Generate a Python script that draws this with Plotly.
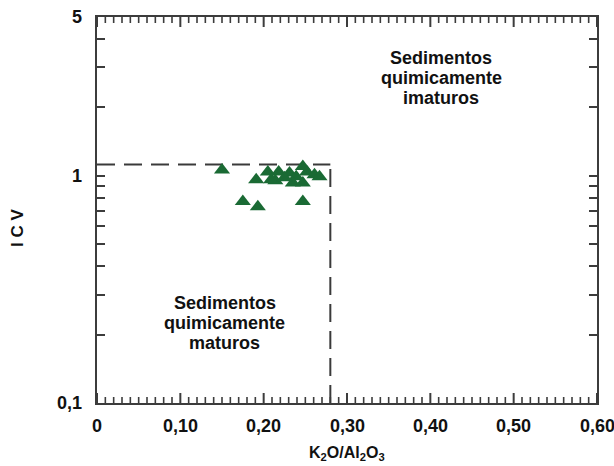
import math
import plotly.graph_objects as go

# Sample data: K2O/Al2O3 ratio and Index of Compositional Variability
k2o_al2o3 = [0.150, 0.191, 0.205, 0.218, 0.214, 0.231, 0.247, 0.239, 0.252,
             0.261, 0.267, 0.235, 0.247, 0.175, 0.193, 0.247, 0.209, 0.225]
icv = [1.06, 0.96, 1.04, 1.04, 0.95, 1.03, 1.10, 0.99, 1.04,
       1.01, 0.99, 0.93, 0.93, 0.77, 0.73, 0.77, 0.96, 0.98]

# Boundary between chemically mature and immature sediments
k2o_limit = 0.28
icv_limit = 1.12

x_ticks = [0, 0.1, 0.2, 0.3, 0.4, 0.5, 0.6]
x_ticktext = ["0", "0,10", "0,20", "0,30", "0,40", "0,50", "0,60"]
x_minor_step = 0.01
y_ticks = [0.1, 1, 5]
y_ticktext = ["0,1", "1", "5"]
y_minor = [0.2, 0.3, 0.4, 0.5, 0.6, 0.7, 0.8, 0.9, 2, 3, 4]

# Region labels, one entry per text line
immature_lines = ["Sedimentos", "quimicamente", "imaturos"]
mature_lines = ["Sedimentos", "quimicamente", "maturos"]

axis_color = "#3c3c3c"
text_color = "#111111"
font_family = "Liberation Sans"

W, H = 614, 466
M = dict(l=97, r=17, t=17, b=63)
plot_h = H - M["t"] - M["b"]
y_lo, y_hi = -1.0, math.log10(5)
log_per_px = (y_hi - y_lo) / plot_h

fig = go.Figure()

# Inside tick marks along the bottom and top frame, drawn as line segments
n_steps = int(round((x_ticks[-1] - x_ticks[0]) / x_minor_step))
tick_sets = {True: ([], []), False: ([], [])}
for i in range(n_steps + 1):
    xv = round(x_ticks[0] + i * x_minor_step, 4)
    major = i % 10 == 0
    length = 10 if major else 6
    xs, ys = tick_sets[major]
    xs += [xv, xv, None, xv, xv, None]
    ys += [10 ** y_lo, 10 ** (y_lo + length * log_per_px), None,
           10 ** y_hi, 10 ** (y_hi - length * log_per_px), None]
for major, (xs, ys) in tick_sets.items():
    fig.add_trace(go.Scatter(
        x=xs, y=ys, mode="lines", cliponaxis=False,
        line=dict(color=axis_color, width=2 if major else 1.6),
        hoverinfo="skip", showlegend=False))

# Dashed boundary lines
dash_style = dict(color="#3a3a3a", width=2, dash="18px,9px")
fig.add_trace(go.Scatter(
    x=[0, k2o_limit], y=[icv_limit, icv_limit], mode="lines",
    line=dash_style, hoverinfo="skip", showlegend=False))
fig.add_trace(go.Scatter(
    x=[k2o_limit, k2o_limit], y=[0.1, icv_limit], mode="lines",
    line=dash_style, hoverinfo="skip", showlegend=False))

# Samples
fig.add_trace(go.Scatter(
    x=k2o_al2o3, y=icv, mode="markers",
    marker=dict(symbol="triangle-up", size=14, color="#1a6a34",
                line=dict(width=0)),
    showlegend=False))

# Bold tick labels
for xv, t in zip(x_ticks, x_ticktext):
    fig.add_annotation(x=xv, xref="x", y=0, yref="paper", yanchor="top",
                       yshift=-11, text="<b>" + t + "</b>", showarrow=False,
                       font=dict(size=18, family=font_family, color=text_color))
for yv, t in zip(y_ticks, y_ticktext):
    fig.add_annotation(x=0, xref="paper", y=math.log10(yv), yref="y",
                       xanchor="right", xshift=-13, yanchor="middle",
                       text="<b>" + t + "</b>", showarrow=False,
                       font=dict(size=18, family=font_family, color=text_color))

# Axis titles
fig.add_annotation(x=0.5, xref="paper", y=0, yref="paper", yanchor="middle",
                   yshift=-50,
                   text="<b>K<sub>2</sub>O/Al<sub>2</sub>O<sub>3</sub></b>",
                   showarrow=False,
                   font=dict(size=16, family=font_family, color=text_color))
fig.add_annotation(x=0, xref="paper", xanchor="center", xshift=-80,
                   y=1 - (228 - M["t"]) / plot_h, yref="paper", textangle=-90,
                   text="<b>I C V</b>", showarrow=False,
                   font=dict(size=17, family=font_family, color=text_color))


def add_block(lines, x, y_top_px):
    # stack the lines of a label 20 px apart
    for i, line in enumerate(lines):
        fig.add_annotation(
            x=x, xref="x", y=1 - (y_top_px + 20 * i - M["t"]) / plot_h,
            yref="paper", text="<b>" + line + "</b>", showarrow=False,
            font=dict(size=18, color=text_color, family=font_family),
            xanchor="center", yanchor="middle")


add_block(immature_lines, 0.413, 58)
add_block(mature_lines, 0.153, 303)

fig.update_layout(
    width=W, height=H,
    margin=M,
    paper_bgcolor="white", plot_bgcolor="white",
    font=dict(family=font_family, color=text_color),
    xaxis=dict(
        range=[0, 0.6], ticks="", showticklabels=False,
        showline=True, linecolor=axis_color, linewidth=2, mirror=True,
        showgrid=False, zeroline=False, automargin=False,
    ),
    yaxis=dict(
        type="log", range=[y_lo, y_hi],
        tickvals=y_ticks, showticklabels=False,
        ticks="inside", ticklen=8, tickwidth=1.6, tickcolor=axis_color,
        minor=dict(tickmode="array", tickvals=y_minor, ticks="inside",
                   ticklen=8, tickwidth=1.6, tickcolor=axis_color),
        showline=True, linecolor=axis_color, linewidth=2, mirror="allticks",
        showgrid=False, zeroline=False, automargin=False,
    ),
)

fig.write_html("out.html")
